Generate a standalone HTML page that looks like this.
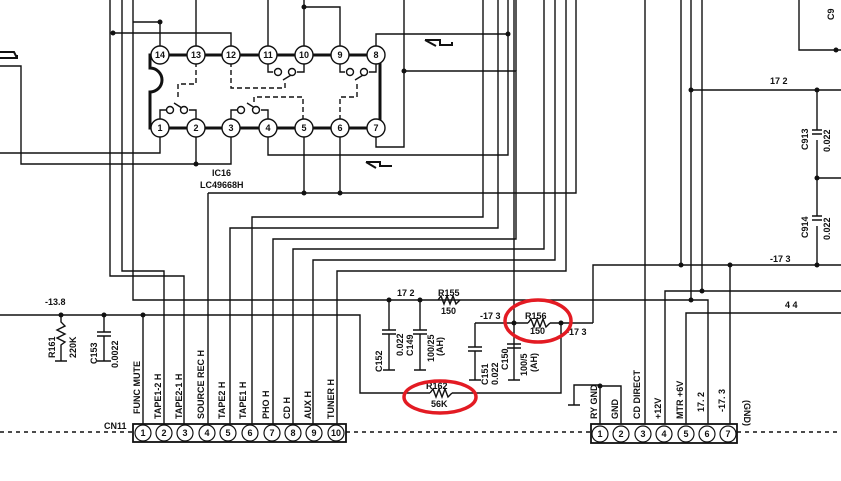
<!DOCTYPE html>
<html><head><meta charset="utf-8"><style>
html,body{margin:0;padding:0;background:#fff}
svg{display:block}
text{font-family:"Liberation Sans",sans-serif;font-size:9px;font-weight:bold;fill:#111}
</style></head><body>
<svg width="841" height="481" viewBox="0 0 841 481" xmlns="http://www.w3.org/2000/svg">
<g stroke="#111" stroke-width="1.4" fill="none">
<!-- IC body -->
<path d="M150,55 H380 V128 H150 V92 A12,12 0 0 0 150,68 Z" stroke-width="3"/>
<!-- dashed switch links -->
<path d="M196,62 V84 H178 V98" stroke-dasharray="5,3"/>
<path d="M231,62 V88 H285 V80" stroke-dasharray="5,3"/>
<path d="M303,120 V97 H254 V104" stroke-dasharray="5,3"/>
<path d="M340,120 V97 H357 V84" stroke-dasharray="5,3"/>
<!-- switches -->
<path d="M160,120 V110 H166 M189,110 H196 V120 M174,103 L185,110"/>
<path d="M231,120 V110 H238 M261,110 H268 V120 M247,103 L258,110"/>
<path d="M268,62 V72 H273 M297,72 H304 V62 M283,80 L296,72"/>
<path d="M340,62 V72 H345 M369,72 H376 V62 M355,80 L368,72"/>
<!-- top wires -->
<path d="M110,0 V276 H184 V424"/>
<path d="M122,0 V271 H164 V424"/>
<path d="M133,0 V300 H708 V424"/>
<path d="M113,33 H231 V46"/>
<path d="M133,22 H160 V46"/>
<path d="M196,0 V46"/>
<path d="M268,0 V46"/>
<path d="M304,0 V46 M304,7 H340 V46"/>
<path d="M376,46 V34 H508 V155 H268 V137"/>
<path d="M404,0 V147 H376 V137 M404,71 H516 V239 H273 V424"/>
<path d="M160,137 V153 H0"/>
<path d="M196,137 V164 M231,137 V164 H21 V66 H0"/>
<path d="M304,137 V193 M340,137 V193 M208,193 H576 V0 M208,193 V424"/>
<path d="M483,0 V217 H252 V424"/>
<path d="M498,0 V228 H230 V424"/>
<path d="M508,0 V34"/>
<path d="M516,0 V71"/>
<path d="M544,0 V249 H293 V424"/>
<path d="M555,0 V260 H313 V424"/>
<path d="M566,0 V271 H337 V424"/>
<path d="M645,0 V424"/>
<path d="M681,0 V265"/>
<path d="M691,0 V300"/>
<path d="M702,0 V291"/>
<path d="M593,323 V265 H841"/>
<path d="M665,424 V291 H841"/>
<path d="M686,424 V313 H841"/>
<path d="M730,265 V424"/>
<path d="M691,90 H841 M817,90 V130 M817,140 V216 M817,226 V265 M817,178 H841"/>
<path d="M799,0 V50 H841"/>
<path d="M812,130 H822 M812,134 H822 M812,216 H822 M812,220 H822"/>
<!-- -13.8 line -->
<path d="M0,315 H360 V393 H430 M452,393 H561 V323"/>
<path d="M143,315 V424"/>
<path d="M61,315 V322 L65,326 L57,330 L65,334 L57,338 L65,342 L61,345 V361 M55,361 H67"/>
<path d="M104,315 V332 M97,332 H111 M97,336 H111 M104,336 V361 M97,361 H111"/>
<path d="M430,393 L433,389 L436,397 L439,389 L442,397 L445,389 L448,397 L452,393"/>
<!-- 17.2 region -->
<path d="M389,300 V330 M382,330 H396 M382,334 H396 M389,334 V370 M383,370 H395"/>
<path d="M420,300 V330 M413,330 H427 M413,334 H427 M420,334 V370 M414,370 H426"/>
<path d="M438,300 L441,296 L444,304 L447,296 L450,304 L453,296 L456,304 L460,300"/>
<path d="M514,0 V380 M508,380 H520 M507,344 H521 M507,348 H521"/>
<path d="M475,323 V347 M468,347 H482 M468,351 H482 M475,351 V380 M469,380 H481"/>
<path d="M475,323 H528 M550,323 H593"/>
<path d="M528,323 L531,319 L534,327 L537,319 L540,327 L543,319 L546,327 L550,323"/>
<!-- right CN grounds -->
<path d="M600,424 V385 H574 V405 M568,405 H580 M600,386 H621 V424"/>
<!-- dashed line -->
<path d="M0,432 H133 M346,432 H591 M737,432 H841" stroke-dasharray="4,4"/>
<!-- connectors -->
<rect x="133" y="424" width="213" height="18" stroke-width="1.8"/>
<rect x="591" y="424" width="146" height="19" stroke-width="1.8"/>
</g>
<!-- IC pins -->
<g stroke="#111" stroke-width="1.4" fill="#fff">
<circle cx="160" cy="55" r="9"/><circle cx="196" cy="55" r="9"/><circle cx="231" cy="55" r="9"/><circle cx="268" cy="55" r="9"/><circle cx="304" cy="55" r="9"/><circle cx="340" cy="55" r="9"/><circle cx="376" cy="55" r="9"/>
<circle cx="160" cy="128" r="9"/><circle cx="196" cy="128" r="9"/><circle cx="231" cy="128" r="9"/><circle cx="268" cy="128" r="9"/><circle cx="304" cy="128" r="9"/><circle cx="340" cy="128" r="9"/><circle cx="376" cy="128" r="9"/>
<circle cx="170" cy="110" r="3.5"/><circle cx="184" cy="110" r="3.5"/><circle cx="241" cy="110" r="3.5"/><circle cx="256" cy="110" r="3.5"/>
<circle cx="278" cy="72" r="3.5"/><circle cx="292" cy="72" r="3.5"/><circle cx="350" cy="72" r="3.5"/><circle cx="364" cy="72" r="3.5"/>
</g>
<g text-anchor="middle">
<text x="160" y="58">14</text><text x="196" y="58">13</text><text x="231" y="58">12</text><text x="268" y="58">11</text><text x="304" y="58">10</text><text x="340" y="58">9</text><text x="376" y="58">8</text>
<text x="160" y="131">1</text><text x="196" y="131">2</text><text x="231" y="131">3</text><text x="268" y="131">4</text><text x="304" y="131">5</text><text x="340" y="131">6</text><text x="376" y="131">7</text>
</g>
<g stroke="#111" stroke-width="1.2" fill="#fff">
<circle cx="143" cy="433" r="8"/><circle cx="164" cy="433" r="8"/><circle cx="185" cy="433" r="8"/><circle cx="207" cy="433" r="8"/><circle cx="228" cy="433" r="8"/><circle cx="250" cy="433" r="8"/><circle cx="272" cy="433" r="8"/><circle cx="293" cy="433" r="8"/><circle cx="314" cy="433" r="8"/><circle cx="336" cy="433" r="8"/>
<circle cx="600" cy="434" r="8"/><circle cx="621" cy="434" r="8"/><circle cx="643" cy="434" r="8"/><circle cx="664" cy="434" r="8"/><circle cx="686" cy="434" r="8"/><circle cx="707" cy="434" r="8"/><circle cx="728" cy="434" r="8"/>
</g>
<g text-anchor="middle" style="font-size:8px">
<text x="143" y="436">1</text><text x="164" y="436">2</text><text x="185" y="436">3</text><text x="207" y="436">4</text><text x="228" y="436">5</text><text x="250" y="436">6</text><text x="272" y="436">7</text><text x="293" y="436">8</text><text x="314" y="436">9</text><text x="336" y="436">10</text>
<text x="600" y="437">1</text><text x="621" y="437">2</text><text x="643" y="437">3</text><text x="664" y="437">4</text><text x="686" y="437">5</text><text x="707" y="437">6</text><text x="728" y="437">7</text>
</g>
<!-- dots -->
<g fill="#111">
<circle cx="113" cy="33" r="2.5"/><circle cx="160" cy="22" r="2.5"/><circle cx="304" cy="7" r="2.5"/><circle cx="196" cy="164" r="2.5"/><circle cx="304" cy="193" r="2.5"/><circle cx="340" cy="193" r="2.5"/><circle cx="404" cy="71" r="2.5"/><circle cx="508" cy="34" r="2.5"/>
<circle cx="61" cy="315" r="2.5"/><circle cx="104" cy="315" r="2.5"/><circle cx="143" cy="315" r="2.5"/>
<circle cx="389" cy="300" r="2.5"/><circle cx="420" cy="300" r="2.5"/><circle cx="691" cy="300" r="2.5"/><circle cx="702" cy="291" r="2.5"/>
<circle cx="514" cy="323" r="2.5"/><circle cx="561" cy="323" r="2.5"/>
<circle cx="681" cy="265" r="2.5"/><circle cx="730" cy="265" r="2.5"/><circle cx="817" cy="265" r="2.5"/>
<circle cx="691" cy="90" r="2.5"/><circle cx="817" cy="90" r="2.5"/><circle cx="817" cy="178" r="2.5"/><circle cx="836" cy="50" r="2.5"/><circle cx="600" cy="386" r="2.5"/>
</g>
<!-- labels -->
<text x="212" y="176">IC16</text>
<text x="200" y="188">LC49668H</text>
<text x="45" y="305">-13.8</text>
<text x="397" y="296">17 2</text>
<text x="438" y="296">R155</text><text x="441" y="314">150</text>
<text x="480" y="319">-17 3</text>
<text x="525" y="319">R156</text><text x="530" y="334">150</text>
<text x="566" y="335">-17 3</text>
<text x="426" y="389">R162</text><text x="431" y="407">56K</text>
<text x="770" y="84">17 2</text>
<text x="770" y="262">-17 3</text>
<text x="785" y="308">4 4</text>
<text x="104" y="429">CN11</text>
<g style="font-size:8.5px">
<text transform="translate(55,358) rotate(-90)">R161</text><text transform="translate(76,358) rotate(-90)">220K</text>
<text transform="translate(97,364) rotate(-90)">C153</text><text transform="translate(118,368) rotate(-90)">0.0022</text>
<text transform="translate(382,372) rotate(-90)">C152</text><text transform="translate(403,356) rotate(-90)">0.022</text>
<text transform="translate(413,356) rotate(-90)">C149</text><text transform="translate(434,362) rotate(-90)">100/25</text><text transform="translate(443,356) rotate(-90)">(AH)</text>
<text transform="translate(488,385) rotate(-90)">C151</text><text transform="translate(498,385) rotate(-90)">0.022</text>
<text transform="translate(508,370) rotate(-90)">C150</text><text transform="translate(527,376) rotate(-90)">100/5</text><text transform="translate(537,372) rotate(-90)">(AH)</text>
<text transform="translate(808,150) rotate(-90)">C913</text><text transform="translate(830,152) rotate(-90)">0.022</text>
<text transform="translate(808,238) rotate(-90)">C914</text><text transform="translate(830,240) rotate(-90)">0.022</text>
<text transform="translate(834,20) rotate(-90)">C9</text>
<text transform="translate(140,414) rotate(-90)">FUNC  MUTE</text>
<text transform="translate(161,419) rotate(-90)">TAPE1-2 H</text>
<text transform="translate(182,419) rotate(-90)">TAPE2-1 H</text>
<text transform="translate(204,419) rotate(-90)">SOURCE REC H</text>
<text transform="translate(225,419) rotate(-90)">TAPE2 H</text>
<text transform="translate(246,419) rotate(-90)">TAPE1 H</text>
<text transform="translate(269,419) rotate(-90)">PHO H</text>
<text transform="translate(290,419) rotate(-90)">CD H</text>
<text transform="translate(311,419) rotate(-90)">AUX H</text>
<text transform="translate(334,419) rotate(-90)">TUNER H</text>
<text transform="translate(597,419) rotate(-90)">RY GND</text>
<text transform="translate(618,419) rotate(-90)">GND</text>
<text transform="translate(640,419) rotate(-90)">CD DIRECT</text>
<text transform="translate(661,419) rotate(-90)">+12V</text>
<text transform="translate(683,419) rotate(-90)">MTR +6V</text>
<text transform="translate(704,412) rotate(-90)">17. 2</text>
<text transform="translate(725,412) rotate(-90)">-17. 3</text>
<text transform="translate(744,400) rotate(90)">(GND)</text>
</g>
<!-- arrow symbols -->
<path d="M425,40 L440,40 L440,45 L452,45 L452,42 M425,40 L436,46" stroke="#111" stroke-width="2" fill="none"/>
<path d="M366,162 L380,162 L380,166 L392,166 M366,162 L376,168" stroke="#111" stroke-width="2" fill="none"/>
<path d="M0,52 L14,52 L16,56 L18,56 M0,58 H18" stroke="#111" stroke-width="2" fill="none"/>
<!-- red ellipses -->
<ellipse cx="538" cy="321" rx="33" ry="21" fill="none" stroke="#e31b23" stroke-width="3.5"/>
<ellipse cx="440" cy="397" rx="36" ry="16" fill="none" stroke="#e31b23" stroke-width="3.5"/>
</svg>
</body></html>
